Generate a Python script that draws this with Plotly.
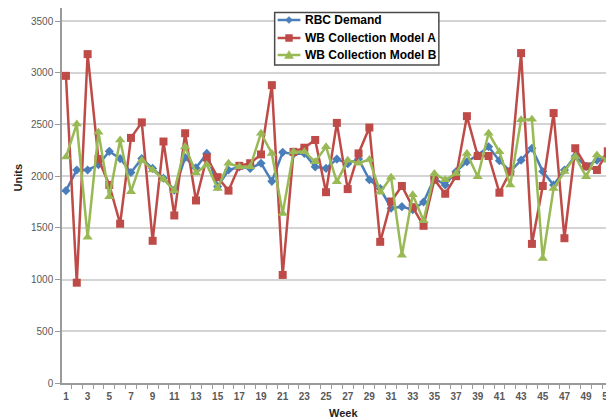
import plotly.graph_objects as go

weeks = list(range(1, 52))

rbc_demand = [1860, 2060, 2060, 2110, 2240, 2170, 2035, 2170, 2075, 1980,
              1865, 2180, 2080, 2220, 1900, 2060, 2090, 2075, 2125, 1950,
              2230, 2215, 2220, 2090, 2075, 2165, 2120, 2165, 1965, 1880,
              1690, 1705, 1675, 1750, 1980, 1915, 2045, 2140, 2205, 2285,
              2150, 2045, 2155, 2270, 2045, 1915, 2060, 2195, 2095, 2155,
              2200]

model_a = [2970, 970, 3180, 2165, 1915, 1540, 2370, 2520, 1375, 2335,
           1620, 2415, 1765, 2180, 1990, 1860, 2100, 2125, 2210, 2880,
           1045, 2235, 2275, 2350, 1845, 2515, 1875, 2220, 2470, 1365,
           1755, 1905, 1700, 1520, 1965, 1830, 2000, 2580, 2195, 2195,
           1840, 2045, 3190, 1345, 1905, 2610, 1400, 2270, 2095, 2060,
           2240]

model_b = [2185, 2505, 1410, 2425, 1800, 2350, 1850, 2155, 2060, 1970,
           1860, 2285, 2030, 2110, 1880, 2125, 2090, 2090, 2415, 2220,
           1640, 2235, 2235, 2140, 2285, 1945, 2155, 2125, 2160, 1845,
           1990, 1235, 1820, 1570, 2025, 1965, 2025, 2220, 1995, 2415,
           2235, 1915, 2545, 2550, 1205, 1880, 2045, 2190, 1995, 2205,
           2155]

series_names = ["RBC Demand", "WB Collection Model A", "WB Collection Model B"]
series_colors = ["#4A7EBB", "#BE4B48", "#98B954"]

y_ticks = [0, 500, 1000, 1500, 2000, 2500, 3000, 3500]
x_ticks = list(range(1, 52, 2))

# figure geometry (page has 8px body margin)
W, H = 606, 411
ML, MR, MT, MB = 54, 0, 0, 36
PW, PH = W - ML - MR, H - MT - MB
OFF = 8


def px(xpage):
    return (xpage - OFF - ML) / PW


def py(ypage):
    return (PH - (ypage - OFF - MT)) / PH


fig = go.Figure()
fig.add_trace(go.Scatter(
    x=weeks, y=rbc_demand, name=series_names[0], mode="lines+markers",
    line=dict(color=series_colors[0], width=2.5),
    marker=dict(symbol="diamond", size=7, color=series_colors[0])))
fig.add_trace(go.Scatter(
    x=weeks, y=model_a, name=series_names[1], mode="lines+markers",
    line=dict(color=series_colors[1], width=2.5),
    marker=dict(symbol="square", size=8, color=series_colors[1])))
fig.add_trace(go.Scatter(
    x=weeks, y=model_b, name=series_names[2], mode="lines+markers",
    line=dict(color=series_colors[2], width=2.5),
    marker=dict(symbol="triangle-up", size=9, color=series_colors[2])))

# manual legend (box, samples, labels)
shapes = [dict(type="rect", xref="paper", yref="paper", layer="above",
               x0=px(277), x1=px(443), y0=py(65), y1=py(12.5),
               fillcolor="white", line=dict(color="#4a4a4a", width=1.5))]
annotations = []
rows = [20, 38, 55]
for i, (name, color) in enumerate(zip(series_names, series_colors)):
    yr = rows[i]
    shapes.append(dict(type="line", xref="paper", yref="paper", layer="above",
                       x0=px(280), x1=px(303), y0=py(yr), y1=py(yr),
                       line=dict(color=color, width=2.5)))
    cx = 291.5
    if i == 0:
        pts = [(cx, yr - 3.5), (cx + 3.5, yr), (cx, yr + 3.5), (cx - 3.5, yr)]
    elif i == 1:
        pts = [(cx - 3.5, yr - 3.5), (cx + 3.5, yr - 3.5),
               (cx + 3.5, yr + 3.5), (cx - 3.5, yr + 3.5)]
    else:
        pts = [(cx, yr - 4.5), (cx + 4.5, yr + 3.5), (cx - 4.5, yr + 3.5)]
    path = "M " + " L ".join(f"{px(a):.5f},{py(b):.5f}" for a, b in pts) + " Z"
    shapes.append(dict(type="path", xref="paper", yref="paper", layer="above",
                       path=path, fillcolor=color, line=dict(color=color, width=0.5)))
    annotations.append(dict(text=name, xref="paper", yref="paper",
                            x=px(305.5), y=py(yr), xanchor="left", yanchor="middle",
                            showarrow=False,
                            font=dict(size=12, color="black", weight="bold")))

annotations += [
    dict(text="Week", xref="paper", yref="paper", x=px(347), y=py(413),
         xanchor="center", yanchor="middle", showarrow=False,
         font=dict(size=11, color="#1f1f1f", weight="bold")),
    dict(text="Units", xref="paper", yref="paper", x=px(18), y=py(177),
         xanchor="center", yanchor="middle", showarrow=False, textangle=-90,
         font=dict(size=11, color="#1f1f1f", weight="bold")),
]

fig.update_layout(
    width=W, height=H,
    margin=dict(l=ML, r=MR, t=MT, b=MB),
    paper_bgcolor="white", plot_bgcolor="white",
    font=dict(family="Liberation Sans, Arial, sans-serif", color="#595959"),
    showlegend=False,
    xaxis=dict(
        range=[0.636, 51.02],
        tickmode="array", tickvals=x_ticks, ticktext=[str(v) for v in x_ticks],
        ticks="", showgrid=False, zeroline=False,
        showline=True, linecolor="#9a9a9a", linewidth=1.5,
        ticklabelstandoff=3, ticklabeloverflow="allow",
        tickfont=dict(size=10, color="#595959", weight="bold"),
        minor=dict(ticks="outside", tick0=0.5, dtick=1, ticklen=4,
                   tickcolor="#9a9a9a", tickwidth=1, showgrid=False),
    ),
    yaxis=dict(
        range=[0, 3626],
        tickmode="array", tickvals=y_ticks, ticktext=[str(v) for v in y_ticks],
        ticks="outside", ticklen=5, tickcolor="#9a9a9a", tickwidth=1,
        showgrid=True, gridcolor="#d4d4d4", gridwidth=1.5,
        zeroline=False,
        showline=True, linecolor="#9a9a9a", linewidth=1.5,
        tickfont=dict(size=10, color="#595959"),
    ),
    shapes=shapes,
    annotations=annotations,
)

fig.write_html("out.html")
